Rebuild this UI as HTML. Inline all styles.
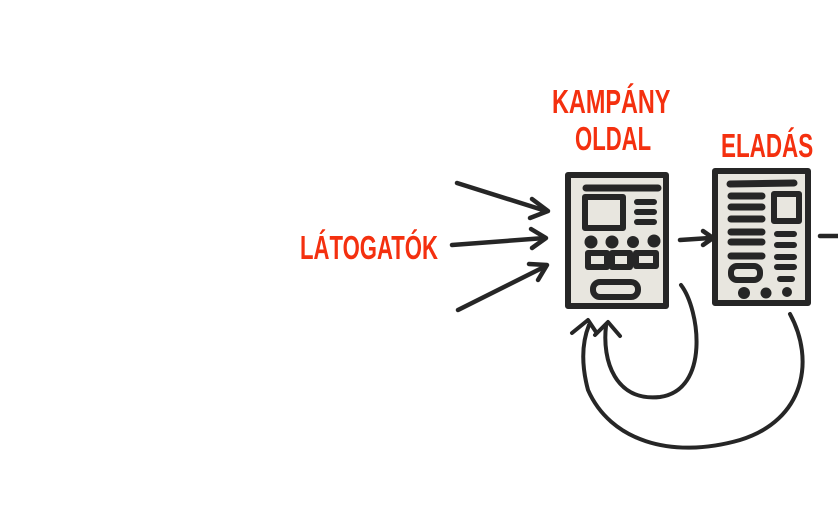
<!DOCTYPE html>
<html><head><style>
html,body{margin:0;padding:0;background:#fff;}
svg{display:block}
text{font-family:"Liberation Sans Narrow","Liberation Sans",sans-serif;font-weight:bold;fill:#f4300f;}
</style></head><body>
<svg width="838" height="529" viewBox="0 0 838 529" xmlns="http://www.w3.org/2000/svg">
<g transform="translate(300,259) scale(0.67,1)"><text x="0" y="0" font-size="33">LÁTOGATÓK</text></g>
<g transform="translate(552,113) scale(0.71,1)"><text x="0" y="0" font-size="33">KAMPÁNY</text></g>
<g transform="translate(575,150) scale(0.67,1)"><text x="0" y="0" font-size="33">OLDAL</text></g>
<g transform="translate(721,157) scale(0.68,1)"><text x="0" y="0" font-size="33">ELADÁS</text></g>
<g stroke="#262626" stroke-linecap="round" stroke-linejoin="round" fill="none">
<path d="M457 183 L546 211" stroke-width="4.5"/>
<path d="M532 199 L548 211 L530 218" stroke-width="4.5"/>
<path d="M452 245 L545 238" stroke-width="4.5"/>
<path d="M531 229 L546 238 L532 248" stroke-width="4.5"/>
<path d="M458 310 L546 266" stroke-width="4.5"/>
<path d="M529 264 L547 265 L538 280" stroke-width="4.5"/>
<rect x="568" y="175" width="98" height="131" fill="#e8e6df" stroke-width="6"/>
<path d="M586 188 L658 188" stroke-width="7"/>
<rect x="585" y="197" width="38" height="31" stroke-width="6"/>
<path d="M637 202 L654 202 M637 212 L654 212 M637 222 L654 222" stroke-width="6"/>
<g fill="#262626" stroke="none"><circle cx="591" cy="242" r="6.5"/><circle cx="612" cy="242" r="6.5"/><circle cx="633" cy="242" r="6"/><circle cx="654" cy="241" r="6.5"/></g>
<rect x="588" y="253" width="19" height="14" stroke-width="6"/>
<rect x="612" y="253" width="18" height="14" stroke-width="6"/>
<rect x="636" y="253" width="20" height="13" stroke-width="6"/>
<rect x="593" y="282" width="45" height="15" rx="7" stroke-width="6"/>
<path d="M680 240 L710 238" stroke-width="4.5"/>
<path d="M703 231 L713 238 L703 245" stroke-width="4.5"/>
<path d="M820 236 L838 236" stroke-width="4.5"/>
<rect x="715" y="171" width="93" height="132" fill="#e8e6df" stroke-width="6"/>
<path d="M730 184 L794 183" stroke-width="7"/>
<path d="M731 196 L762 196 M731 207 L762 207 M731 219 L762 219 M731 232 L762 232 M731 242 L762 242 M731 256 L762 256" stroke-width="7"/>
<rect x="774" y="194" width="25" height="27" stroke-width="6"/>
<path d="M777 234 L794 234 M777 245 L794 245 M777 257 L794 257 M777 267 L794 267 M780 279 L792 279" stroke-width="6"/>
<rect x="731" y="266" width="29" height="14" rx="6" stroke-width="6"/>
<g fill="#262626" stroke="none"><circle cx="744" cy="293" r="6"/><circle cx="766" cy="293" r="5.5"/><circle cx="787" cy="292" r="5"/></g>
<path d="M681 285 C 700 310, 710 390, 660 397 C 615 402, 602 360, 606 326" stroke-width="4"/>
<path d="M595 335 L608 322 L620 336" stroke-width="4"/>
<path d="M790 314 C 815 360, 805 420, 740 440 C 670 460, 610 440, 588 390 C 580 360, 583 340, 589 325" stroke-width="4"/>
<path d="M572 333 L588 320 L596 332" stroke-width="4"/>
</g>
</svg>
</body></html>
